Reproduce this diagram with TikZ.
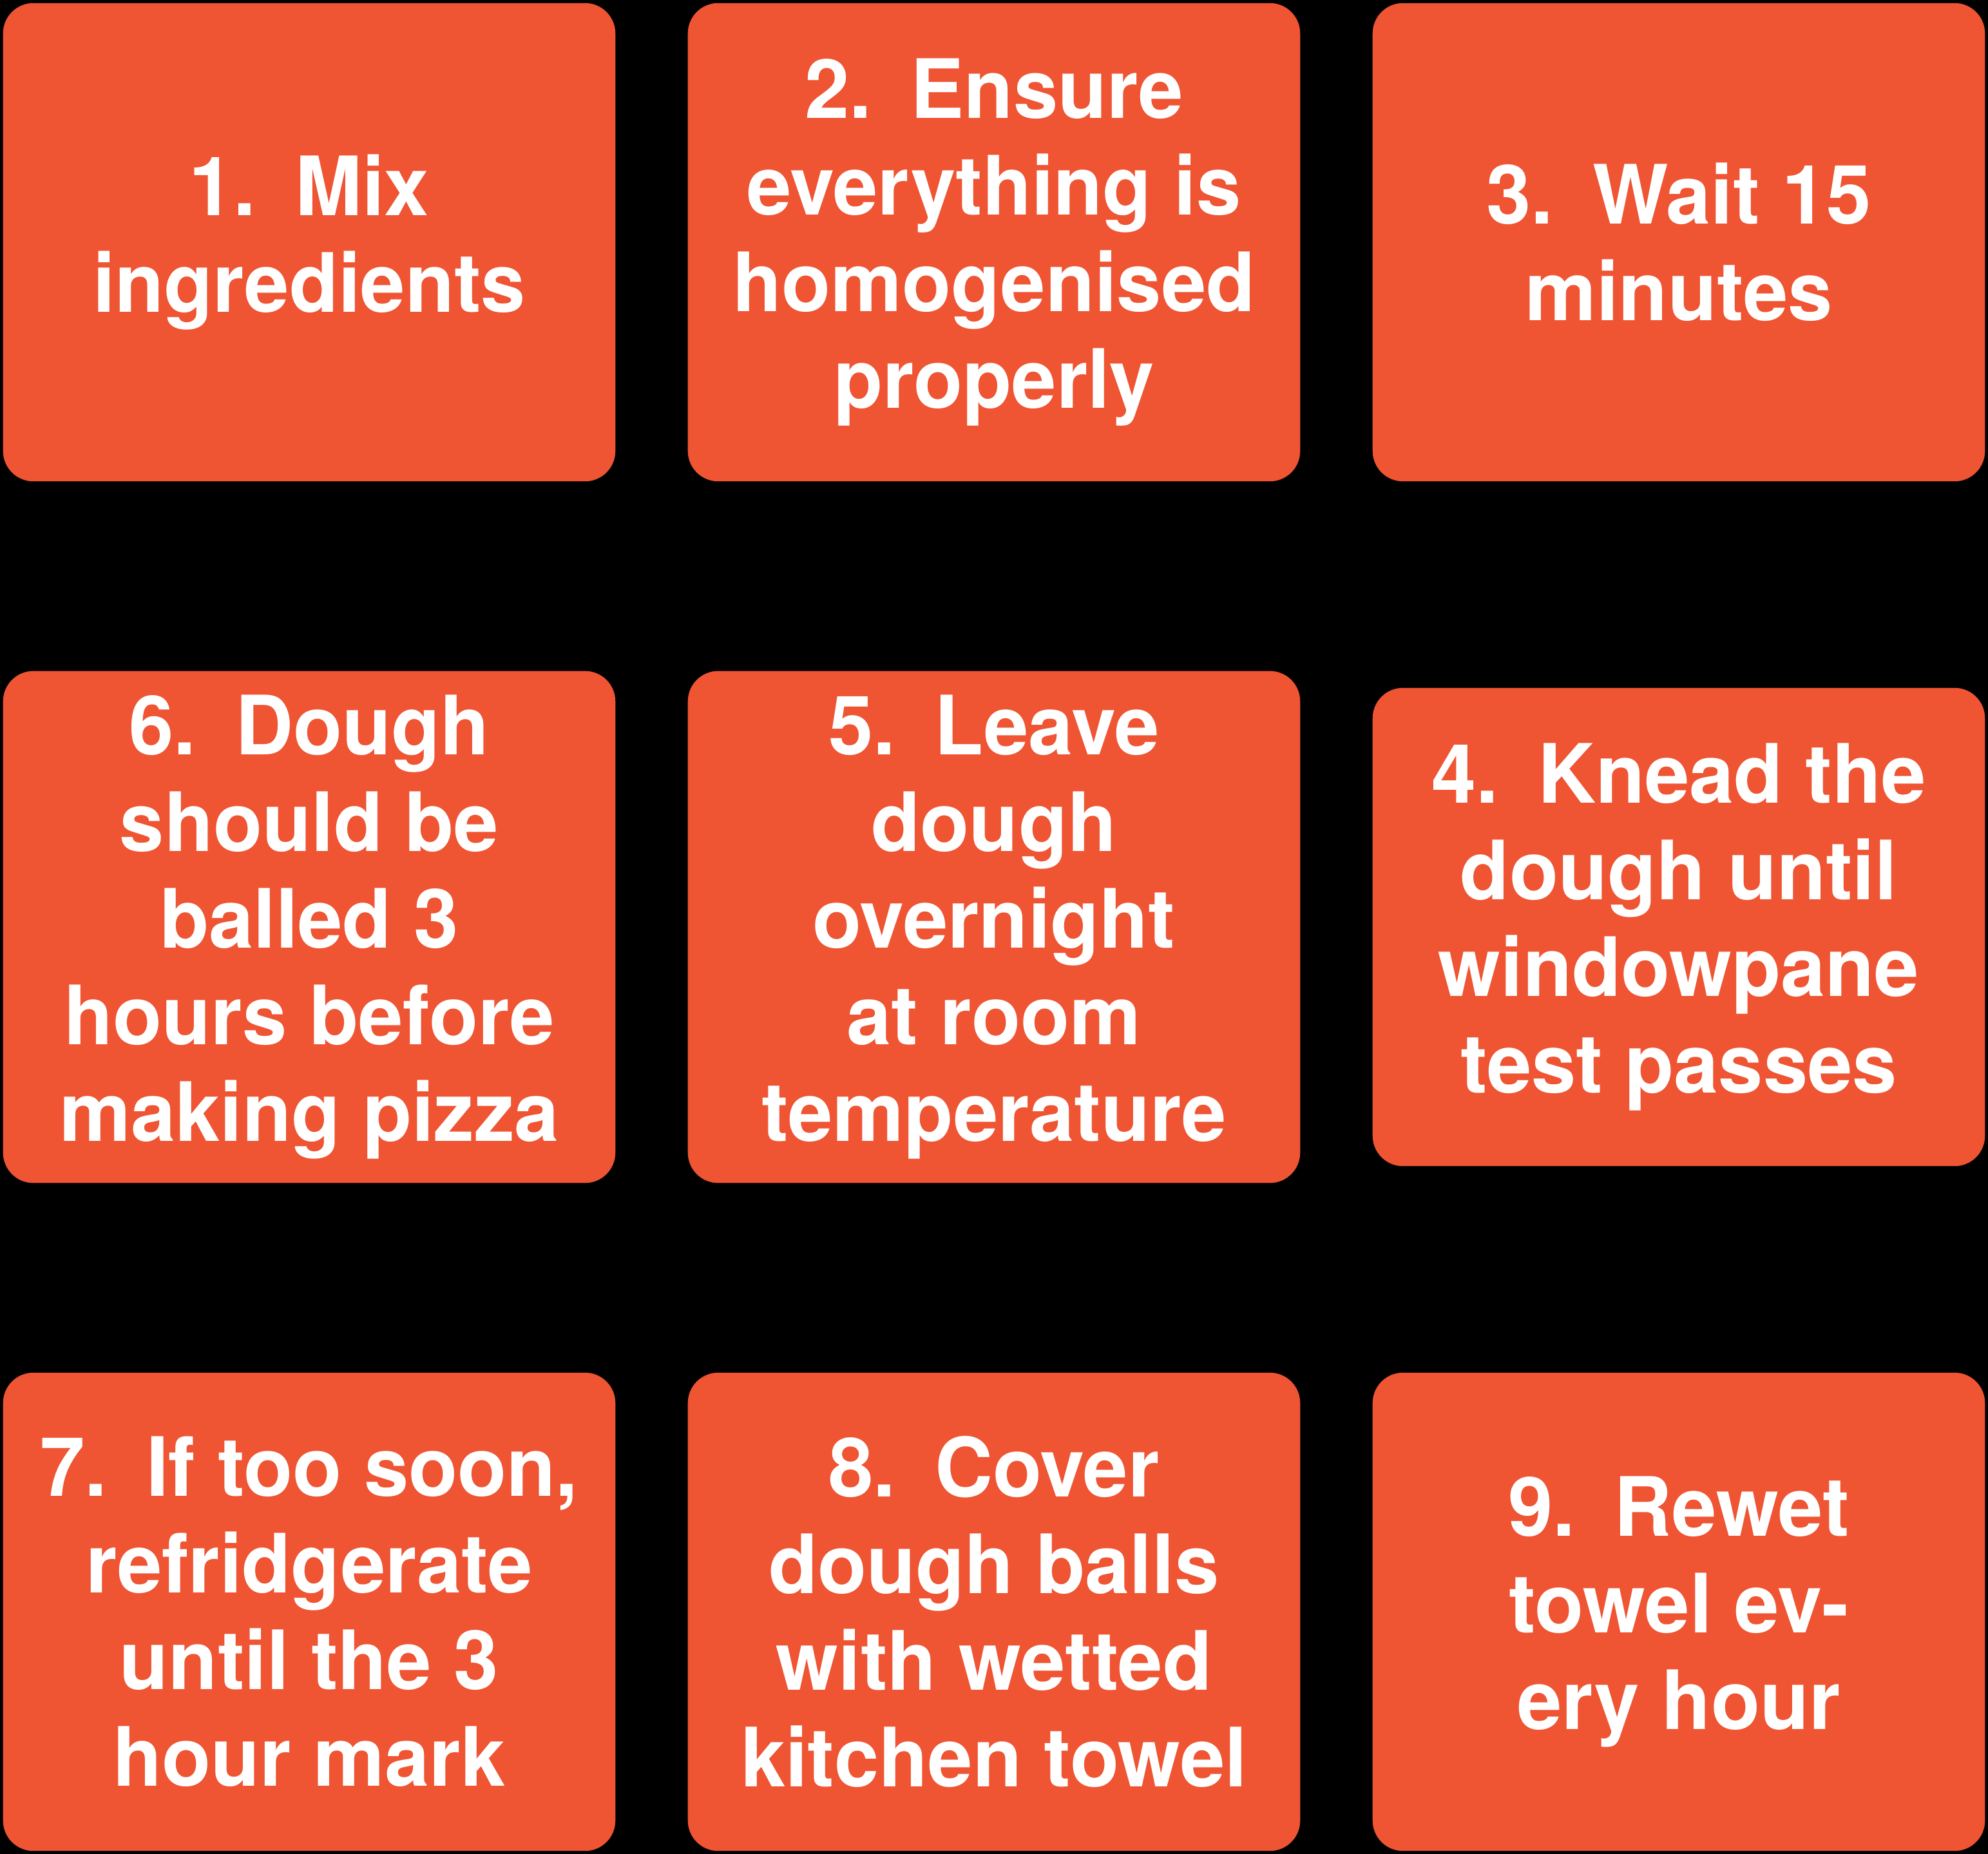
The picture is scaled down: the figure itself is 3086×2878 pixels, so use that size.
\documentclass[tikz,border=0pt]{standalone}
\usepackage{fontspec}
\setmainfont[FakeStretch=0.98]{TeX Gyre Heros}
\definecolor{boxorange}{RGB}{239,84,51}
\newcommand\numgap{\hspace{0.48em}}
\begin{document}
\begin{tikzpicture}[x=0.01cm,y=-0.01cm,
  stepbox/.style={fill=boxorange, rounded corners=0.47cm, draw=none,
    minimum width=9.5cm, minimum height=7.42cm, inner xsep=0.3cm, inner ysep=0.37cm,
    align=center, text=white,
    font=\fontsize{36.14pt}{42.68pt}\selectfont\bfseries}]
\fill[black] (0,0) rectangle (3086,2878);
\useasboundingbox (0,0) rectangle (3086,2878);
\node[stepbox] (s1) at (480,376) {1.\numgap Mix\\ingredients};
\node[stepbox] (s2) at (1543,376) {2.\numgap Ensure\\everything is\\homogenised\\properly};
\node[stepbox] (s3) at (2606,376) {3.\numgap Wait 15\\minutes};
\node[stepbox] (s6) at (480,1439) {6.\numgap Dough\\should be\\balled 3\\hours before\\making pizza};
\node[stepbox] (s5) at (1543,1439) {5.\numgap Leave\\dough\\overnight\\at room\\temperature};
\node[stepbox] (s4) at (2606,1439) {4.\numgap Knead the\\dough until\\windowpane\\test passes};
\node[stepbox] (s7) at (480,2502) {7.\numgap If too soon,\\refridgerate\\until the 3\\hour mark};
\node[stepbox] (s8) at (1543,2502) {8.\numgap Cover\\dough balls\\with wetted\\kitchen towel};
\node[stepbox] (s9) at (2606,2502) {9.\numgap Rewet\\towel ev-\\ery hour};
\end{tikzpicture}
\end{document}
